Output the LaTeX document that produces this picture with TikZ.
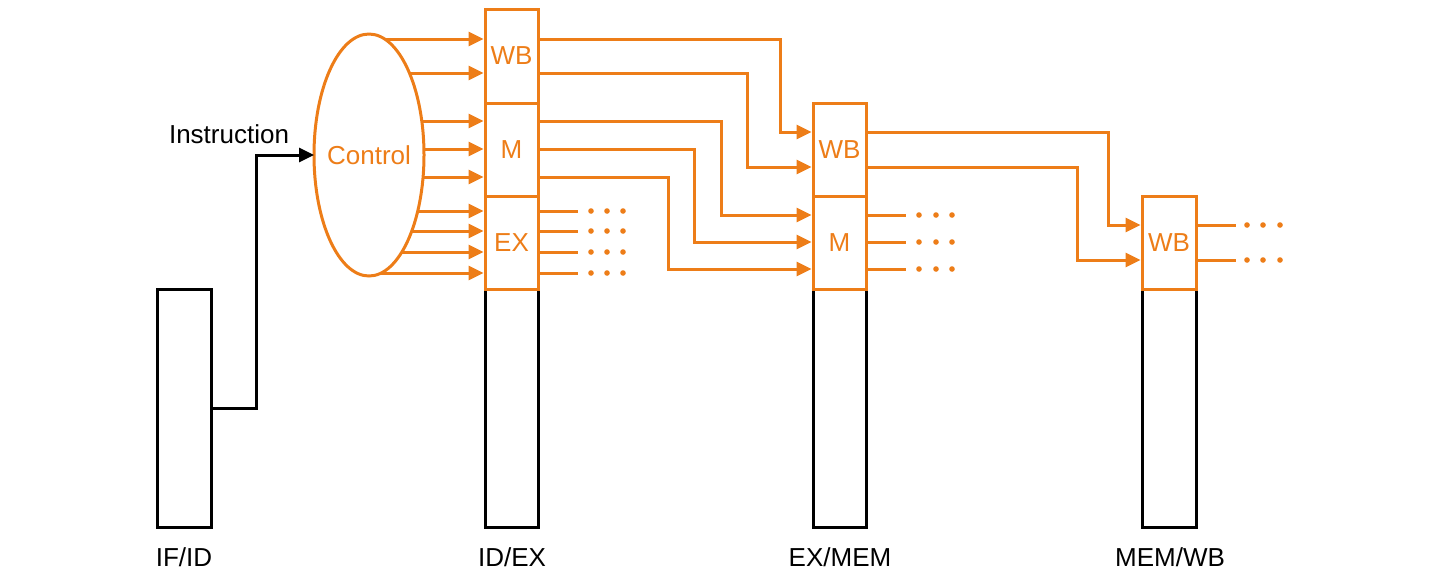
\documentclass[tikz,border=0pt]{standalone}
\usepackage{fontspec}
\setmainfont{Liberation Sans}
\usetikzlibrary{arrows.meta,fit,shapes.geometric}
\definecolor{ctrlorange}{RGB}{237,125,24}
\begin{document}
\begin{tikzpicture}[x=0.5pt,y=-0.5pt,
  txt/.style={font=\fontsize{13}{15}\selectfont},
  obox/.style={draw=ctrlorange,line width=1.5pt,inner sep=0pt,text=ctrlorange,txt},
  kbox/.style={draw=black,line width=1.5pt,inner sep=0pt},
  oline/.style={draw=ctrlorange,line width=1.5pt},
  osig/.style={oline,-{Triangle[length=7.5pt,width=7pt]}},
  karr/.style={draw=black,line width=1.5pt,-{Triangle[length=7.5pt,width=7pt]}},
  dots/.style={fill=ctrlorange}
]
\useasboundingbox (0,0) rectangle (1455,586);

% pipeline registers (black lower parts)
\node[kbox,fit={(157,289)(211,527)}] (ifid) {};
\node[kbox,fit={(485,289)(538,527)}] (idex) {};
\node[kbox,fit={(813,289)(866,527)}] (exmem) {};
\node[kbox,fit={(1142,289)(1196,527)}] (memwb) {};

% control fields carried by the registers
\node[obox,fit={(485,9)(538,103)}] (wbA) {};
\node[obox,fit={(485,103)(538,196)}] (mA) {};
\node[obox,fit={(485,196)(538,289)}] (exA) {};
\node[obox,fit={(813,103)(866,196)}] (wbB) {};
\node[obox,fit={(813,196)(866,289)}] (mB) {};
\node[obox,fit={(1142,196)(1196,289)}] (wbC) {};
\node[txt,text=ctrlorange] (wbAt) at (wbA.center) {WB};
\node[txt,text=ctrlorange] (mAt) at (mA.center) {M};
\node[txt,text=ctrlorange] (exAt) at (exA.center) {EX};
\node[txt,text=ctrlorange] (wbBt) at (wbB.center) {WB};
\node[txt,text=ctrlorange] (mBt) at (mB.center) {M};
\node[txt,text=ctrlorange] (wbCt) at (wbC.center) {WB};

% control unit
\node[ellipse,draw=ctrlorange,line width=1.5pt,inner sep=0pt,outer sep=0pt,
      minimum width=55pt,minimum height=121pt] (ctrl) at (369,155) {};
\node[txt,text=ctrlorange] (ctrlt) at (ctrl.center) {Control};

% labels
\node[txt] (instr) at (229,134) {Instruction};
\node[txt] (lifid) at (184,557) {IF/ID};
\node[txt] (lidex) at (512,557) {ID/EX};
\node[txt] (lexmem) at (840,557) {EX/MEM};
\node[txt] (lmemwb) at (1170,557) {MEM/WB};

% instruction into control
\draw[karr] (ifid.east |- 0,408) -- (256,408) |- (ctrl.west);

% control outputs on the ellipse border
\coordinate (c1) at (384.6,39);
\coordinate (c2) at (409.4,73);
\coordinate (c3) at (421.8,121);
\coordinate (c4) at (423.9,149);
\coordinate (c5) at (423.1,177);
\coordinate (c6) at (417.8,211);
\coordinate (c7) at (411.8,231);
\coordinate (c8) at (401.9,252);
\coordinate (c9) at (381.2,273);
\draw[osig] (c1) -- (wbA.west |- c1);
\draw[osig] (c2) -- (wbA.west |- c2);
\draw[osig] (c3) -- (mA.west |- c3);
\draw[osig] (c4) -- (mA.west |- c4);
\draw[osig] (c5) -- (mA.west |- c5);
\draw[osig] (c6) -- (exA.west |- c6);
\draw[osig] (c7) -- (exA.west |- c7);
\draw[osig] (c8) -- (exA.west |- c8);
\draw[osig] (c9) -- (exA.west |- c9);

% ID/EX to EX/MEM
\draw[osig] (wbA.east |- 0,39) -- (780,39) |- (wbB.west |- 0,132);
\draw[osig] (wbA.east |- 0,73) -- (747,73) |- (wbB.west |- 0,167);
\draw[osig] (mA.east |- 0,121) -- (721,121) |- (mB.west |- 0,215);
\draw[osig] (mA.east |- 0,149) -- (694,149) |- (mB.west |- 0,242);
\draw[osig] (mA.east |- 0,177) -- (668,177) |- (mB.west |- 0,269);

% EX/MEM to MEM/WB
\draw[osig] (wbB.east |- 0,132) -- (1108,132) |- (wbC.west |- 0,225);
\draw[osig] (wbB.east |- 0,167) -- (1077,167) |- (wbC.west |- 0,260);

% signals leaving towards the next stage
\foreach \yy in {211,231,252,273} {
  \draw[oline] (exA.east |- 0,\yy) -- (578,\yy);
  \foreach \xx in {591,607,623} \fill[dots] (\xx,\yy) circle[radius=1.4pt];
}
\foreach \yy in {215,242,269} {
  \draw[oline] (mB.east |- 0,\yy) -- (906,\yy);
  \foreach \xx in {919,936,952} \fill[dots] (\xx,\yy) circle[radius=1.4pt];
}
\foreach \yy in {225,260} {
  \draw[oline] (wbC.east |- 0,\yy) -- (1236,\yy);
  \foreach \xx in {1247,1263,1280} \fill[dots] (\xx,\yy) circle[radius=1.4pt];
}
\end{tikzpicture}
\end{document}
